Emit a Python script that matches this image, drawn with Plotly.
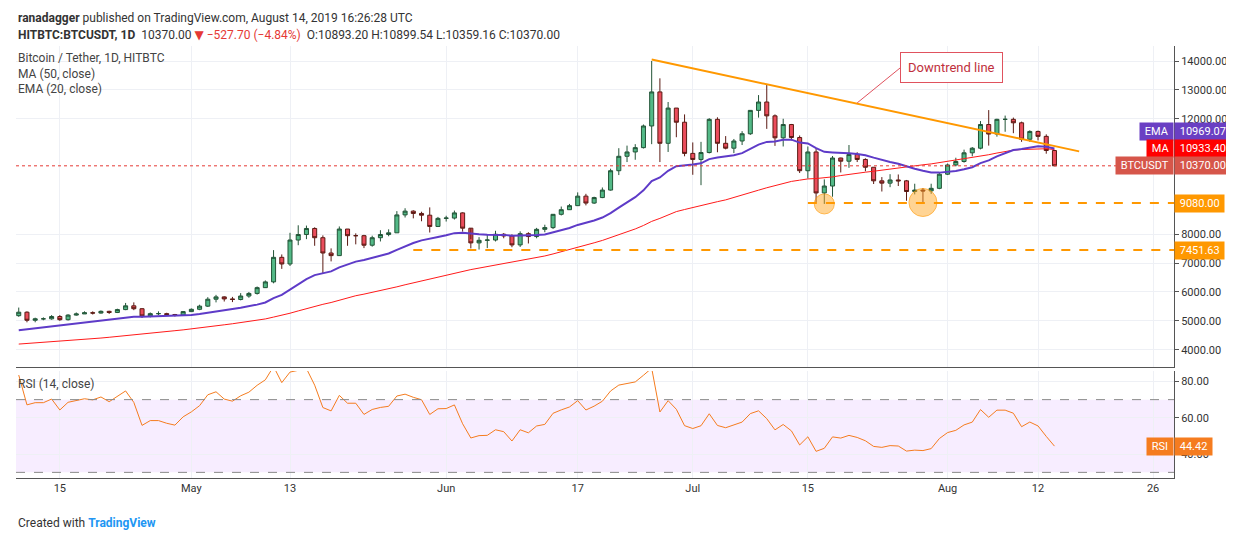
import pandas as pd
import plotly.graph_objects as go
from plotly.subplots import make_subplots

# closes before the visible window, only used to warm up MA / EMA / RSI
history_closes = [3930, 3950, 3980, 3960, 4120, 3860, 3830, 3810, 3840, 3830,
                  3860, 3870, 3880, 3850, 3890, 3900, 3920, 3940, 3930, 3950,
                  3990, 3990, 4020, 4000, 4050, 4020, 4000, 3980, 3970, 4060,
                  4110, 4090, 4100, 4140, 4880, 4970, 4900, 5040, 5050, 5200,
                  5280, 5180]

dates = pd.date_range("2019-04-10", "2019-08-14", freq="D")
closes = [5300, 5020, 5070, 5070, 5150, 5040, 5200, 5240, 5280, 5270,
          5330, 5290, 5390, 5520, 5420, 5170, 5250, 5250, 5220, 5200,
          5320, 5400, 5510, 5750, 5830, 5760, 5740, 5860, 5950, 6150,
          6350, 7200, 6970, 7800, 7990, 8200, 7880, 7350, 7260, 8180,
          7950, 7950, 7620, 7880, 7990, 8050, 8670, 8800, 8720, 8660,
          8270, 8550, 8560, 8740, 8210, 7700, 7790, 7800, 8000, 7940,
          7630, 8020, 7920, 8170, 8230, 8690, 8850, 8990, 9320, 9080,
          9270, 9530, 10200, 10700, 10850, 11000, 11750, 12930, 11150, 12370,
          11880, 10800, 10590, 10830, 11980, 11150, 10980, 11230, 11480, 12290,
          12580, 12100, 11340, 11800, 11350, 10200, 10850, 9430, 9670, 10640,
          10530, 10760, 10590, 10320, 9850, 9770, 9880, 9850, 9480, 9530,
          9500, 9590, 10080, 10400, 10520, 10820, 10980, 11800, 11470, 11980,
          11980, 11860, 11290, 11560, 11390, 10900, 10370]
opens = [5180] + closes[:-1]
highs = [5460, 5330, 5110, 5120, 5200, 5200, 5230, 5290, 5330, 5330,
         5360, 5350, 5420, 5620, 5640, 5440, 5290, 5330, 5280, 5240,
         5340, 5430, 5560, 5820, 5900, 5850, 5830, 5960, 6000, 6190,
         6400, 7450, 7300, 8050, 8310, 8300, 8240, 7960, 7510, 8270,
         8180, 8030, 7980, 7950, 8140, 8170, 8800, 8900, 8830, 8780,
         8930, 8600, 8640, 8820, 8760, 7830, 7900, 7980, 8120, 8040,
         8000, 8100, 8070, 8220, 8330, 8700, 8960, 9050, 9450, 9400,
         9300, 9620, 10270, 10980, 11070, 11120, 11800, 14000, 13400, 12580,
         12370, 12150, 11180, 11200, 12020, 12050, 11400, 11300, 11570, 12300,
         12820, 13200, 12150, 12000, 11820, 11420, 11040, 10980, 9900, 10710,
         10650, 11090, 10840, 10630, 10320, 9980, 10080, 10070, 9880, 9750,
         9600, 9750, 10120, 10450, 10650, 10930, 11020, 11920, 12300, 12000,
         12110, 12040, 11900, 11600, 11590, 11460, 10900]
lows = [5140, 4950, 4950, 5020, 5040, 5000, 5010, 5180, 5240, 5220,
        5250, 5240, 5270, 5370, 5370, 5100, 5120, 5200, 5180, 5150,
        5180, 5310, 5370, 5480, 5640, 5670, 5650, 5710, 5800, 5910,
        6140, 6300, 6800, 6900, 7620, 7830, 7600, 6630, 7060, 7250,
        7600, 7650, 7520, 7570, 7750, 7930, 8050, 8580, 8550, 8450,
        8060, 8250, 8440, 8510, 8090, 7510, 7470, 7520, 7750, 7860,
        7550, 7560, 7680, 7860, 8070, 8180, 8650, 8840, 8980, 9000,
        9050, 9250, 9510, 10050, 10500, 10580, 10970, 11120, 10500, 10850,
        11360, 10700, 10060, 9700, 10800, 10840, 10940, 10810, 11090, 11440,
        12040, 11650, 11060, 11040, 11250, 10120, 9930, 9100, 9050, 9300,
        10140, 10300, 10500, 10180, 9740, 9480, 9630, 9670, 9160, 9380,
        9110, 9400, 9560, 10050, 10350, 10480, 10700, 10940, 11070, 11380,
        11550, 11500, 11200, 11200, 11250, 10790, 10360]

tick_dates = ["2019-04-15", "2019-05-01", "2019-05-13", "2019-06-01", "2019-06-17",
              "2019-07-01", "2019-07-15", "2019-08-01", "2019-08-12", "2019-08-26"]
tick_text = ["15", "May", "13", "Jun", "17", "Jul", "15", "Aug", "12", "26"]
# 9000-11000 are hidden under the value labels in the reference
price_ticks = [4000, 5000, 6000, 7000, 8000, 12000, 13000, 14000]
rsi_ticks = [40, 60, 80]

trend_dates = ["2019-06-26", "2019-08-17"]
trend_prices = [14050, 10870]
support_high, support_low = 9080.00, 7451.63
circle_dates = ["2019-07-17", "2019-07-29"]
circle_prices = [9050, 9100]

# indicators
all_close = pd.Series(history_closes + closes)
ma50 = all_close.rolling(50, min_periods=1).mean().iloc[-len(closes):].values
ema20 = all_close.ewm(span=20, adjust=False).mean().iloc[-len(closes):].values
delta = all_close.diff()
gain = delta.clip(lower=0).ewm(alpha=1 / 14, adjust=False).mean()
loss = (-delta.clip(upper=0)).ewm(alpha=1 / 14, adjust=False).mean()
rsi = (100 - 100 / (1 + gain / loss)).iloc[-len(closes):].values

GREEN, RED = "#53b987", "#eb4d5c"
x0, x1 = pd.Timestamp("2019-04-09 16:00"), pd.Timestamp("2019-08-28 13:00")

fig = make_subplots(rows=2, cols=1, shared_xaxes=True, row_heights=[0.75, 0.25],
                    vertical_spacing=0.01)

fig.add_trace(go.Candlestick(
    x=dates, open=opens, high=highs, low=lows, close=closes,
    increasing=dict(line=dict(color="#225437", width=1), fillcolor=GREEN),
    decreasing=dict(line=dict(color="#5b1a13", width=1), fillcolor=RED),
    whiskerwidth=0, showlegend=False), row=1, col=1)
fig.add_trace(go.Scatter(x=dates, y=ma50, mode="lines", line=dict(color="#ff1a1a", width=1),
                         showlegend=False), row=1, col=1)
fig.add_trace(go.Scatter(x=dates, y=ema20, mode="lines", line=dict(color="#5e3bc8", width=2),
                         showlegend=False), row=1, col=1)
fig.add_trace(go.Scatter(x=trend_dates, y=trend_prices, mode="lines",
                         line=dict(color="#ff9800", width=2), showlegend=False), row=1, col=1)
fig.add_trace(go.Scatter(x=circle_dates, y=circle_prices, mode="markers",
                         marker=dict(size=[20, 28], color="rgba(255,168,40,0.7)",
                                     line=dict(color="#ff9800", width=1)),
                         showlegend=False), row=1, col=1)
fig.add_trace(go.Scatter(x=dates, y=rsi, mode="lines", line=dict(color="#f57c1f", width=1),
                         showlegend=False), row=2, col=1)

# horizontal levels
fig.add_shape(type="line", x0=x0, x1=x1, y0=closes[-1], y1=closes[-1], xref="x", yref="y",
              line=dict(color="#e53935", width=1, dash="dot"))
fig.add_shape(type="line", x0="2019-07-15", x1=x1, y0=support_high, y1=support_high,
              xref="x", yref="y", line=dict(color="#ff9800", width=2, dash="dash"))
fig.add_shape(type="line", x0="2019-05-28", x1=x1, y0=support_low, y1=support_low,
              xref="x", yref="y", line=dict(color="#ff9800", width=2, dash="dash"))
fig.add_shape(type="rect", x0=x0, x1=x1, y0=30, y1=70, xref="x2", yref="y2",
              fillcolor="rgba(153,21,255,0.08)", line=dict(width=0), layer="below")
for lvl in [30, 70]:
    fig.add_shape(type="line", x0=x0, x1=x1, y0=lvl, y1=lvl, xref="x2", yref="y2",
                  line=dict(color="#888888", width=1, dash="dash"))

# callout
fig.add_annotation(x="2019-07-21", y=12550, ax=43, ay=-35, xref="x", yref="y",
                   text="Downtrend line", showarrow=True, arrowhead=0, arrowcolor="#e0525e",
                   arrowwidth=1, bgcolor="white", bordercolor="#e0525e", borderwidth=1,
                   borderpad=7, font=dict(size=13, color="#c0303c"), xanchor="left")

# right-side price labels, stacked so they do not collide
labels = [(ema20[-1], "EMA", "#6a3fc3", 34), (ma50[-1], "MA", "#ff0000", 17),
          (closes[-1], "BTCUSDT", "#d6564a", 0)]
lab_font = dict(color="white", size=11)
for val, name, col, shift in labels:
    fig.add_annotation(x=1.0, xref="paper", y=closes[-1], yref="y", yshift=shift,
                       text=f" {val:.2f} ", showarrow=False, xanchor="left", bgcolor=col,
                       font=lab_font, borderpad=2)
    fig.add_annotation(x=1.0, xref="paper", y=closes[-1], yref="y", yshift=shift,
                       text=f" {name} ", showarrow=False, xanchor="right", bgcolor=col,
                       font=lab_font, borderpad=2)
for val in [support_high, support_low]:
    fig.add_annotation(x=1.0, xref="paper", y=val, yref="y", text=f" {val:.2f} ",
                       showarrow=False, xanchor="left", bgcolor="#ff9800",
                       font=lab_font, borderpad=2)
fig.add_annotation(x=1.0, xref="paper", y=rsi[-1], yref="y2", text=f" {rsi[-1]:.2f} ",
                   showarrow=False, xanchor="left", bgcolor="#f57c1f",
                   font=lab_font, borderpad=2)
fig.add_annotation(x=1.0, xref="paper", y=rsi[-1], yref="y2", text=" RSI ",
                   showarrow=False, xanchor="right", bgcolor="#f57c1f",
                   font=lab_font, borderpad=2)

# header and legends
fig.add_annotation(x=0, y=1.0, xref="paper", yref="paper", yanchor="bottom", yshift=2,
                   xanchor="left", showarrow=False, align="left",
                   text="<b>HITBTC:BTCUSDT, 1D</b>  10370.00 <span style='color:#e53935'>▼ −527.70 (−4.84%)</span>"
                        "  O:10893.20 H:10899.54 L:10359.16 C:10370.00",
                   font=dict(size=12, color="#333"))
fig.add_annotation(x=0, y=1.0, xref="paper", yref="paper", yanchor="bottom", yshift=19,
                   xanchor="left", showarrow=False,
                   text="<b>ranadagger</b> published on TradingView.com, August 14, 2019 16:26:28 UTC",
                   font=dict(size=12, color="#333"))
fig.add_annotation(x=0, y=1.0, xref="paper", yref="paper", yanchor="top", yshift=-3,
                   xanchor="left", showarrow=False, align="left",
                   text="Bitcoin / Tether, 1D, HITBTC<br>MA (50, close)<br>EMA (20, close)",
                   font=dict(size=12, color="#444"))
fig.add_annotation(x=0, y=0.245, xref="paper", yref="paper", yanchor="top", yshift=-3,
                   xanchor="left", showarrow=False, text="RSI (14, close)",
                   font=dict(size=12, color="#444"))
fig.add_annotation(x=0, y=0, xref="paper", yref="paper", yanchor="top", yshift=-36,
                   xanchor="left", showarrow=False,
                   text="Created with <b style='color:#2196f3'>TradingView</b>",
                   font=dict(size=12, color="#333"))

axis_common = dict(showline=True, linecolor="#555", gridcolor="#eef0f5", zeroline=False,
                   tickfont=dict(size=11, color="#333"), side="right", ticks="outside",
                   ticklen=4, tickcolor="#555")
fig.update_yaxes(range=[3410, 14520], tickvals=price_ticks,
                 ticktext=[f"{v:.2f}" for v in price_ticks], row=1, col=1, **axis_common)
fig.update_yaxes(range=[26.9, 85.7], tickvals=rsi_ticks,
                 ticktext=[f"{v:.2f}" for v in rsi_ticks], row=2, col=1, **axis_common)
fig.update_xaxes(range=[x0, x1], gridcolor="#eef0f5", showline=True, linecolor="#555",
                 rangeslider_visible=False, tickvals=tick_dates, ticktext=tick_text,
                 tickfont=dict(size=11, color="#333"), mirror=False)

fig.update_layout(width=1234, height=540, margin=dict(l=8, r=68, t=38, b=70),
                  plot_bgcolor="white", paper_bgcolor="white",
                  font=dict(family="Roboto, DejaVu Sans"), showlegend=False)

fig.write_html("out.html")
